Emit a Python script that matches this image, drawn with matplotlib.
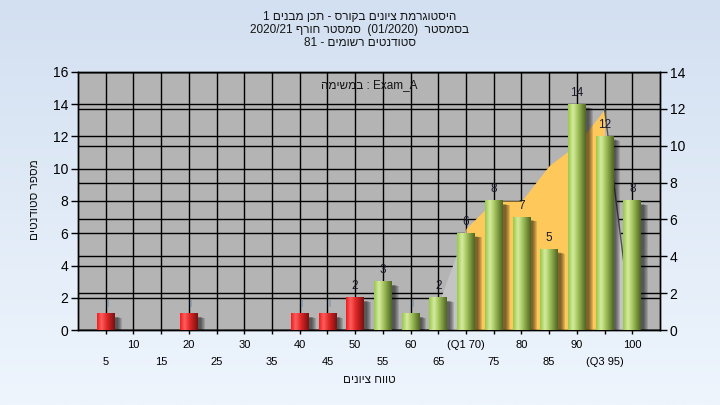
import re
import numpy as np
import matplotlib
matplotlib.use("Agg")
import matplotlib.pyplot as plt
from matplotlib import transforms
from matplotlib.patches import Rectangle
from matplotlib.colors import LinearSegmentedColormap

plt.rcParams['font.family'] = ['Liberation Sans', 'DejaVu Sans Condensed', 'DejaVu Sans']

# ---------------- data ----------------
grades = [5, 10, 15, 20, 25, 30, 35, 40, 45, 50, 55, 60, 65, 70, 75, 80, 85, 90, 95, 100]
counts = [1, 0, 0, 1, 0, 0, 0, 1, 1, 2, 3, 1, 2, 6, 8, 7, 5, 14, 12, 8]
pass_grade = 55
q1_grade = 70
q3_grade = 95
tick_labels = ['5', '10', '15', '20', '25', '30', '35', '40', '45', '50',
               '55', '60', '65', '(Q1 70)', '75', '80', '85', '90', '(Q3 95)', '100']
area_grades = [65, 70, 75, 80, 85, 90, 95, 100]
area_values = [1.6, 6.3, 8.0, 8.0, 10.2, 11.5, 13.7, 0.0]

title_lines = ['היסטוגרמת ציונים בקורס - תכן מבנים 1',
               'בסמסטר  (01/2020)  סמסטר חורף 2020/21',
               'סטודנטים רשומים - 81']
task_label = 'במשימה : Exam_A'
x_label = 'טווח ציונים'
y_label = 'מספר סטודנטים'

left_max, left_step = 16, 2
right_max, right_step = 14, 2


def rtl(s, base_rtl=True):
    """Convert logical-order Hebrew text to visual (left-to-right) order."""
    if base_rtl:
        parts = re.findall(r'[A-Za-z0-9_]+(?:[/.][A-Za-z0-9_]+)*|.', s)
        mirror = {'(': ')', ')': '('}
        return ''.join(mirror.get(p, p) for p in parts[::-1])
    return re.sub(r'[\u0590-\u05FF]+(?:\s+[\u0590-\u05FF]+)*',
                  lambda m: m.group(0)[::-1], s)


# ---------------- figure ----------------
fig = plt.figure(figsize=(7.2, 4.05), dpi=100)

bg = fig.add_axes([0, 0, 1, 1], zorder=-10)
bg_cmap = LinearSegmentedColormap.from_list('bg', ['#d3e0f1', '#eef5fd'])
bg.imshow(np.linspace(0, 1, 256).reshape(-1, 1), cmap=bg_cmap, aspect='auto',
          extent=[0, 1, 0, 1])
bg.set_axis_off()

rect = [78 / 720, 1 - 330 / 405, (660 - 78) / 720, (330 - 72) / 405]
ax2 = fig.add_axes(rect, zorder=1)
ax = fig.add_axes(rect, zorder=2)
ax.patch.set_visible(False)
ax2.set_facecolor('#b4b4b4')

xmin, xmax = 0, 105
for a in (ax, ax2):
    a.set_xlim(xmin, xmax)
ax.set_ylim(0, left_max)
ax2.set_ylim(0, right_max)

# right axis (bottom layer) with its own grid and the vertical grid
ax2.set_yticks(np.arange(0, right_max + 1, right_step))
ax2.set_xticks(grades)
ax2.yaxis.tick_right()
ax2.grid(True, color='black', lw=1.0)
ax2.set_axisbelow(True)
ax2.tick_params(axis='y', direction='out', length=5, width=1,
                labelsize=10, colors='black', pad=2)
ax2.tick_params(axis='x', bottom=False, labelbottom=False)

# left axis
ax.set_yticks(np.arange(0, left_max + 1, left_step))
ax.grid(axis='y', color='black', lw=1.0)
ax.set_axisbelow(True)
ax.tick_params(axis='y', direction='out', length=5, width=1, labelsize=10,
               colors='black', pad=2)
ax.yaxis.tick_left()

# x ticks: two rows of labels
major_idx = [i for i, g in enumerate(grades) if g % 10 == 0]
minor_idx = [i for i, g in enumerate(grades) if g % 10 != 0]
ax.set_xticks([grades[i] for i in major_idx])
ax.set_xticklabels([tick_labels[i] for i in major_idx])
ax.set_xticks([grades[i] for i in minor_idx], minor=True)
ax.set_xticklabels([tick_labels[i] for i in minor_idx], minor=True)
ax.tick_params(axis='x', which='major', direction='out', length=3, width=1,
               labelsize=8, pad=4.5, colors='black')
ax.tick_params(axis='x', which='minor', direction='out', length=3, width=1,
               labelsize=8, pad=16.5, colors='black')

for a in (ax, ax2):
    for s in a.spines.values():
        s.set_color('black')
        s.set_linewidth(1.0)

# ---------------- area (quartile band) ----------------
ag = np.array(area_grades, float)
av = np.array(area_values, float)
ax.fill_between(ag, 0, av, where=(ag <= q1_grade), color='#c4c4c4', lw=0, zorder=1)
ax.fill_between(ag, 0, av, where=(ag >= q3_grade), color='#c4c4c4', lw=0, zorder=1)
ax.fill_between(ag, 0, av, where=(ag >= q1_grade) & (ag <= q3_grade),
                color='#ffc85a', lw=0, zorder=1.1)
mask = ag >= q3_grade
ax.plot(ag[mask], av[mask], color='#505050', lw=1.0, zorder=1.2)

# ---------------- bars ----------------
bar_w = 3.2
red_cmap = LinearSegmentedColormap.from_list(
    'red', [(0, '#f01c1c'), (0.25, '#ff5e5e'), (0.55, '#e02626'), (1, '#7a1010')])
green_cmap = LinearSegmentedColormap.from_list(
    'green', [(0, '#98c84c'), (0.28, '#d6eca0'), (0.55, '#a2c25a'), (1, '#4e6622')])
grad = np.linspace(0, 1, 64).reshape(1, -1)

for g, c in zip(grades, counts):
    if c <= 0:
        continue
    cmap = red_cmap if g < pass_grade else green_cmap
    for k, off in enumerate([3, 4, 5, 6, 7]):
        tr = transforms.offset_copy(ax.transData, fig=fig, x=off, y=-3 - k * 0.3,
                                    units='dots')
        ax.add_patch(Rectangle((g - bar_w / 2, 0), bar_w, c, transform=tr,
                               facecolor='black', alpha=0.13, lw=0, zorder=2))
    ax.imshow(grad, cmap=cmap, aspect='auto', interpolation='bilinear',
              extent=[g - bar_w / 2, g + bar_w / 2, 0, c], zorder=3)
    if c >= 2:
        ax.annotate(str(c), (g, c), xytext=(0, 4), textcoords='offset points',
                    ha='center', va='bottom', fontsize=8.5, color='#1a1a2a', zorder=5)
    else:
        ax.annotate('|', (g, c), xytext=(1, 5), textcoords='offset points',
                    ha='center', va='bottom', fontsize=6, color='#4a7fb5', zorder=5)

for a in (ax, ax2):
    a.set_xlim(xmin, xmax)
ax.set_ylim(0, left_max)

# ---------------- texts ----------------
for i, line in enumerate(title_lines):
    fig.text(0.5, 1 - (17 + 13 * i) / 405, rtl(line), ha='center', va='center',
             fontsize=8.5, color='#141414')

ax.text(0.5, 0.95, rtl(task_label, base_rtl=False), transform=ax.transAxes,
        ha='center', va='center', fontsize=8.5, color='#141414', zorder=6)

fig.text(369 / 720, 1 - 380 / 405, rtl(x_label), ha='center', va='center',
         fontsize=8.5, color='#141414')
fig.text(35 / 720, 1 - 200 / 405, rtl(y_label), ha='center', va='center',
         fontsize=8.5, rotation=90, color='#141414')

fig.savefig('out.png', dpi=100)
